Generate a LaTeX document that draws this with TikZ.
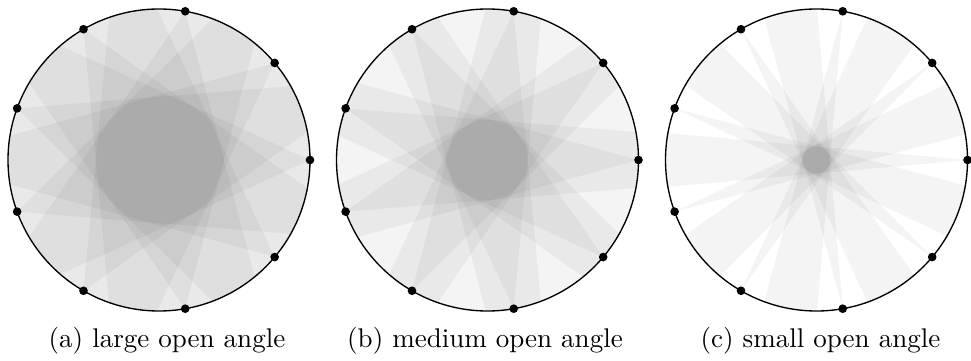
\documentclass[tikz,border=0pt]{standalone}
\usetikzlibrary{calc}
\begin{document}
\begin{tikzpicture}[x=0.37pt,y=0.37pt,
  dotnode/.style={circle,fill=black,inner sep=0pt,minimum size=3.2pt},
  wedge/.style={fill=black,fill opacity=0.044},
  rim/.style={draw=black,line width=0.5pt},
  capnode/.style={anchor=base,inner sep=0pt}]
\useasboundingbox (0,0) rectangle (971,360);
\foreach \cx/\rr/\nm in {159/63/a,487.5/40/b,816.5/13.5/c}{
  \pgfmathsetmacro\al{asin(\rr/151)}
  \coordinate (\nm C) at (\cx,200);
  \begin{scope}
    \clip (\nm C) circle (151);
    \foreach \k in {0,...,8}{
      \pgfmathsetmacro\ph{40*\k}
      \fill[wedge] ($(\nm C)+(\ph:151)$) -- ($(\nm C)+(\ph:151)+(\ph+180+\al:400)$) -- ($(\nm C)+(\ph:151)+(\ph+180-\al:400)$) -- cycle;
    }
  \end{scope}
  \draw[rim] (\nm C) circle (151);
  \foreach \k in {0,...,8}{
    \node[dotnode] (\nm\k) at ($(\nm C)+(40*\k:151)$) {};
  }
}
\node[capnode] (capa) at (167,13) {(a) large open angle};
\node[capnode] (capb) at (485,13) {(b) medium open angle};
\node[capnode] (capc) at (820.5,13) {(c) small open angle};
\end{tikzpicture}
\end{document}
